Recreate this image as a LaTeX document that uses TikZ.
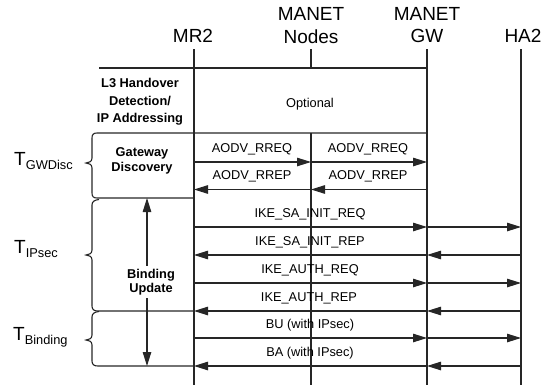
\documentclass[tikz,border=0pt]{standalone}
\usepackage{fontspec}
\setmainfont{Liberation Sans}
\usetikzlibrary{arrows.meta}
\begin{document}
\begin{tikzpicture}[x=1pt,y=-1pt,
  line/.style={line width=1.1pt, black!85},
  tip/.style={Triangle[length=14pt,width=8.5pt]},
  msg/.style={line width=1.1pt, black!85, -{Triangle[length=14pt,width=8.5pt]}},
  head/.style={font=\fontsize{19}{21}\selectfont, inner sep=0pt},
  lbl/.style={font=\fontsize{12.8}{14}\selectfont, inner sep=0pt, anchor=base},
  boxtxt/.style={font=\fontsize{12.8}{17.5}\selectfont\bfseries, align=center, inner sep=0pt},
  tlab/.style={font=\fontsize{19}{21}\selectfont, inner sep=0pt, anchor=base west},
]
\useasboundingbox (0,0) rectangle (557,391);
\newcommand\subtxt[1]{\raisebox{-4.5pt}{\fontsize{12.8}{14}\selectfont #1}}

% headings
\node[head, anchor=base] (mr2) at (193,42) {MR2};
\node[head, anchor=base] (manet1) at (311,20) {MANET};
\node[head, anchor=base] (nodes) at (311,43) {Nodes};
\node[head, anchor=base] (manet2) at (427,20) {MANET};
\node[head, anchor=base] (gw) at (427,42) {GW};
\node[head, anchor=base] (ha2) at (523,42) {HA2};

% lifeline ends
\coordinate (mrT) at (194,49);  \coordinate (mrB) at (194,385);
\coordinate (ndT) at (311,49);  \coordinate (ndM) at (311,68);
\coordinate (ndN) at (311,133); \coordinate (ndB) at (311,385);
\coordinate (gwT) at (427,49);  \coordinate (gwB) at (427,385);
\coordinate (haT) at (521,49);  \coordinate (haB) at (521,385);

% rows
\coordinate (rTop) at (99,68);
\coordinate (rA) at (0,133);
\coordinate (rB) at (0,198);
\coordinate (r1) at (0,162);
\coordinate (r2) at (0,189.5);
\coordinate (r3) at (0,227);
\coordinate (r4) at (0,255);
\coordinate (r5) at (0,283);
\coordinate (r6) at (0,311);
\coordinate (r7) at (0,338);
\coordinate (r8) at (0,366);

\draw[line] (mrT) -- (mrB);
\draw[line] (ndT) -- (ndM);
\draw[line] (ndN) -- (ndB);
\draw[line] (gwT) -- (gwB);
\draw[line] (haT) -- (haB);

% optional box top
\draw[line] (rTop) -- (gwT |- rTop);

% GW discovery brace box
\draw[line] (gwT |- rA) -- (97,133) .. controls (93.5,133) and (92,134.5) .. (92,138)
  -- (92,158) .. controls (92,161.5) and (89,163) .. (86,163)
  .. controls (89,163) and (92,164.5) .. (92,168)
  -- (92,193) .. controls (92,196.5) and (93.5,198) .. (97,198) -- (mrT |- rB);

% IPsec brace
\draw[line] (99,199.5) .. controls (94.5,200) and (92,201.5) .. (92,205)
  -- (92,250) .. controls (92,253.5) and (89,255) .. (86,255)
  .. controls (89,255) and (92,256.5) .. (92,260)
  -- (92,306) .. controls (92,309.5) and (94,311) .. (98,311) -- (mrT |- r6);

% Binding brace
\draw[line] (99,311.5) .. controls (94.5,312) and (92,313.5) .. (92,317)
  -- (92,335) .. controls (92,338.5) and (89,340) .. (86,340)
  .. controls (89,340) and (92,341.5) .. (92,345)
  -- (92,361) .. controls (92,364.5) and (94,366) .. (98,366) -- (mrT |- r8);

% box texts
\node[boxtxt] (l3) at (140,102) {L3 Handover\\Detection/\\IP Addressing};
\node[lbl, anchor=center] (opt) at (310,104) {Optional};
\node[boxtxt, font=\fontsize{12.8}{15}\selectfont\bfseries] (gwd) at (142,160.5) {Gateway\\Discovery};

% binding update double arrow
\coordinate (vaT) at (147,198);
\coordinate (vaB) at (147,366);
\draw[line, {Triangle[length=14pt,width=8.5pt]}-{Triangle[length=14pt,width=8.5pt]}] (vaT) -- (vaB);
\node[boxtxt, font=\fontsize{12.8}{14.5}\selectfont\bfseries, fill=white, inner sep=3pt] (bu) at (151,282) {Binding\\Update};

% messages
\draw[msg] (mrT |- r1) -- (ndT |- r1);
\draw[msg] (ndT |- r1) -- (gwT |- r1);
\draw[msg] (gwT |- r2) -- (ndT |- r2);
\draw[msg] (ndT |- r2) -- (mrT |- r2);
\draw[msg] (mrT |- r3) -- (gwT |- r3);
\draw[msg] (gwT |- r3) -- (haT |- r3);
\draw[msg] (haT |- r4) -- (gwT |- r4);
\draw[msg] (gwT |- r4) -- (mrT |- r4);
\draw[msg] (mrT |- r5) -- (gwT |- r5);
\draw[msg] (gwT |- r5) -- (haT |- r5);
\draw[msg] (haT |- r6) -- (gwT |- r6);
\draw[msg] (gwT |- r6) -- (mrT |- r6);
\draw[msg] (mrT |- r7) -- (gwT |- r7);
\draw[msg] (gwT |- r7) -- (haT |- r7);
\draw[msg] (haT |- r8) -- (gwT |- r8);
\draw[msg] (gwT |- r8) -- (mrT |- r8);

% message labels
\node[lbl] (m1) at (252,152) {AODV\_RREQ};
\node[lbl] (m2) at (368,152) {AODV\_RREQ};
\node[lbl] (m3) at (252,179.5) {AODV\_RREP};
\node[lbl] (m4) at (368,179.5) {AODV\_RREP};
\node[lbl] (m5) at (310,217) {IKE\_SA\_INIT\_REQ};
\node[lbl] (m6) at (310,245) {IKE\_SA\_INIT\_REP};
\node[lbl] (m7) at (310,273) {IKE\_AUTH\_REQ};
\node[lbl] (m8) at (309,301) {IKE\_AUTH\_REP};
\node[lbl] (m9) at (310,328) {BU (with IPsec)};
\node[lbl] (m10) at (310,356) {BA (with IPsec)};

% time labels
\node[tlab] (tgw) at (14,165) {T\subtxt{GWDisc}};
\node[tlab] (tip) at (14,253) {T\subtxt{IPsec}};
\node[tlab] (tbi) at (13,340) {T\subtxt{Binding}};
\end{tikzpicture}
\end{document}
